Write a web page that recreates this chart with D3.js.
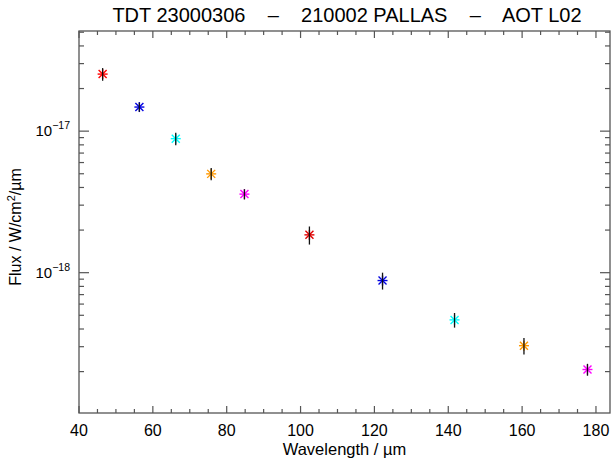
<!DOCTYPE html>
<html>
<head>
<meta charset="utf-8">
<script src="https://cdn.jsdelivr.net/npm/d3@7"></script>
<style>
  body { margin: 0; background: #fff; }
  svg { font-family: "Liberation Sans", Arial, sans-serif; }
</style>
</head>
<body>
<div id="chart"></div>
<script>
// values
const wavelength = [46.4, 56.35, 66.2, 75.8, 84.8, 102.4, 122.2, 141.7, 160.5, 177.7];
const flux = [2.53e-17, 1.48e-17, 8.85e-18, 4.99e-18, 3.59e-18, 1.85e-18, 8.8e-19, 4.64e-19, 3.05e-19, 2.07e-19];
const fluxErr = [2.6e-18, 1.1e-18, 9e-19, 5e-19, 3e-19, 2.7e-19, 1.2e-19, 5.5e-20, 4.1e-20, 2e-20];
const colours = ["#ff0000", "#0000e0", "#00ffff", "#ff9900", "#ff00ff", "#e00000", "#0000e0", "#00ffff", "#ff9900", "#ff00ff"];
const xTicks = [40, 60, 80, 100, 120, 140, 160, 180];
const yTicks = [-17, -18];

const width = 611, height = 462;
const margin = {top: 31, right: 1, bottom: 49, left: 79};

const svg = d3.select("#chart").append("svg")
    .attr("width", width)
    .attr("height", height);

const x = d3.scaleLinear()
    .domain([40, 183.8])
    .range([margin.left, width - margin.right]);

const y = d3.scaleLog()
    .domain([1.02e-19, 5.1e-17])
    .range([height - margin.bottom, margin.top]);

const axisColour = "#555";
const x0 = margin.left, x1 = width - margin.right;
const y0 = height - margin.bottom, y1 = margin.top;

// frame
svg.append("rect")
    .attr("x", x0).attr("y", y1)
    .attr("width", x1 - x0).attr("height", y0 - y1)
    .attr("fill", "none")
    .attr("stroke", axisColour)
    .attr("stroke-width", 1.3);

// x ticks, bottom and top
let xMinor = d3.range(40, 184, 5);
xMinor.forEach(v => {
    let major = v % 20 === 0;
    let len = major ? 7 : 4;
    svg.append("line")
        .attr("x1", x(v)).attr("x2", x(v))
        .attr("y1", y0).attr("y2", y0 - len)
        .attr("stroke", axisColour).attr("stroke-width", 1.2);
    svg.append("line")
        .attr("x1", x(v)).attr("x2", x(v))
        .attr("y1", y1).attr("y2", y1 + len)
        .attr("stroke", axisColour).attr("stroke-width", 1.2);
});

svg.selectAll(".xlab")
    .data(xTicks)
    .enter().append("text")
    .attr("class", "xlab")
    .attr("x", d => x(d))
    .attr("y", y0 + 23)
    .attr("text-anchor", "middle")
    .attr("font-size", 16)
    .text(d => d);

// y ticks, left and right
let yMinor = [];
[-20, -19, -18, -17].forEach(e => {
    for (let m = 1; m <= 9; m++) yMinor.push({v: m * Math.pow(10, e), major: m === 1});
});
yMinor.filter(d => d.v >= y.domain()[0] && d.v <= y.domain()[1]).forEach(d => {
    let len = d.major ? 10 : 5;
    svg.append("line")
        .attr("x1", x0).attr("x2", x0 + len)
        .attr("y1", y(d.v)).attr("y2", y(d.v))
        .attr("stroke", axisColour).attr("stroke-width", 1.2);
    svg.append("line")
        .attr("x1", x1).attr("x2", x1 - len)
        .attr("y1", y(d.v)).attr("y2", y(d.v))
        .attr("stroke", axisColour).attr("stroke-width", 1.2);
});

yTicks.forEach(e => {
    let t = svg.append("text")
        .attr("x", x0 - 9)
        .attr("y", y(Math.pow(10, e)) + 5)
        .attr("text-anchor", "end")
        .attr("font-size", 15);
    t.append("tspan").text("10");
    t.append("tspan")
        .attr("dy", -7)
        .attr("font-size", 10.5)
        .text("\u2212" + Math.abs(e));
});

// title and axis labels
svg.append("text")
    .attr("x", 347)
    .attr("y", 22)
    .attr("text-anchor", "middle")
    .attr("font-size", 20)
    .attr("xml:space", "preserve")
    .text("TDT 23000306    \u2013    210002 PALLAS    \u2013    AOT L02");

svg.append("text")
    .attr("x", (x0 + x1) / 2)
    .attr("y", height - 7)
    .attr("text-anchor", "middle")
    .attr("font-size", 16.5)
    .text("Wavelength / \u00b5m");

let ylab = svg.append("text")
    .attr("transform", `translate(21,227) rotate(-90)`)
    .attr("text-anchor", "middle")
    .attr("font-size", 16);
ylab.append("tspan").text("Flux / W/cm");
ylab.append("tspan").attr("dy", -6).attr("font-size", 11).text("2");
ylab.append("tspan").attr("dy", 6).text("/\u00b5m");

// points: asterisk marker + error bar
const data = wavelength.map((w, i) => ({w: w, f: flux[i], e: fluxErr[i], c: colours[i]}));

const pts = svg.selectAll(".pt")
    .data(data)
    .enter().append("g")
    .attr("class", "pt")
    .attr("transform", d => `translate(${x(d.w)},${y(d.f)})`);

const r = 5;
const arms = [[-r, 0, r, 0], [-r * 0.8, -r * 0.8, r * 0.8, r * 0.8], [-r * 0.8, r * 0.8, r * 0.8, -r * 0.8], [0, -r, 0, r]];
arms.forEach(a => {
    pts.append("line")
        .attr("x1", a[0]).attr("y1", a[1])
        .attr("x2", a[2]).attr("y2", a[3])
        .attr("stroke", d => d.c)
        .attr("stroke-width", 1.4);
});

pts.append("line")
    .attr("x1", 0).attr("x2", 0)
    .attr("y1", d => y(d.f + d.e) - y(d.f))
    .attr("y2", d => y(d.f - d.e) - y(d.f))
    .attr("stroke", "#111")
    .attr("stroke-width", 1.3);
</script>
</body>
</html>
